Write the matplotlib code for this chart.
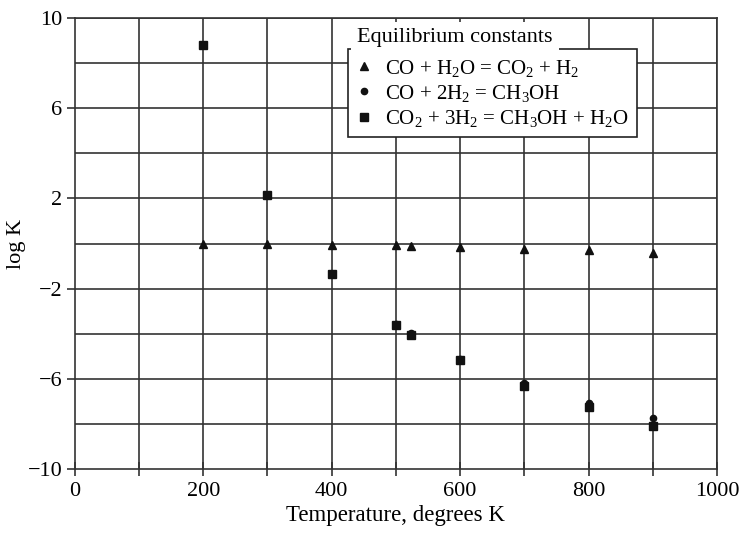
import matplotlib
matplotlib.use("Agg")
import matplotlib.pyplot as plt

plt.rcParams['font.family'] = ['Liberation Serif', 'DejaVu Serif']
plt.rcParams['mathtext.fontset'] = 'custom'
plt.rcParams['mathtext.rm'] = 'Liberation Serif'
plt.rcParams['mathtext.it'] = 'Liberation Serif:italic'

temps = [200, 300, 400, 500, 523, 600, 700, 800, 900]
logk_shift = [0.0, 0.0, -0.05, -0.05, -0.12, -0.15, -0.25, -0.3, -0.42]
logk_co = [8.8, 2.14, -1.37, -3.56, -3.97, -5.1, -6.2, -7.08, -7.72]
logk_co2 = [8.8, 2.14, -1.37, -3.62, -4.07, -5.17, -6.32, -7.24, -8.09]

labels = [r'CO + H$_2$O = CO$_2$ + H$_2$',
          r'CO + 2H$_2$ = CH$_3$OH',
          r'CO$_2$ + 3H$_2$ = CH$_3$OH + H$_2$O']
legend_title = 'Equilibrium constants'
xticks = [0, 200, 400, 600, 800, 1000]
yticks = [10, 6, 2, -2, -6, -10]

fig = plt.figure(figsize=(7.4, 5.33), dpi=100)
ax = fig.add_axes([0.101, 0.120, 0.868, 0.846])

gc = '#333333'
for xv in range(100, 1001, 100):
    ax.axvline(xv, color=gc, lw=1.2, zorder=1)
for yv in range(-8, 11, 2):
    ax.axhline(yv, color=gc, lw=1.2, zorder=1)

h1, = ax.plot(temps, logk_shift, linestyle='none', marker='^', ms=6, color='#111111', zorder=3)
h2, = ax.plot(temps, logk_co, linestyle='none', marker='o', ms=4.5, color='#111111', zorder=3)
h3, = ax.plot(temps, logk_co2, linestyle='none', marker='s', ms=5.2, color='#111111', zorder=4)

ax.set_xlim(0, 1000)
ax.set_ylim(-10, 10)
ax.set_xticks(xticks)
ax.set_xticks(range(100, 1000, 200), minor=True)
ax.set_yticks(yticks)
ax.set_yticks(range(-8, 10, 4), minor=True)
ax.tick_params(axis='x', which='both', direction='inout', length=10, width=1.2, color=gc, labelsize=16, pad=4)
ax.tick_params(axis='y', which='major', direction='out', length=6, width=1.2, color=gc, labelsize=16, pad=3)
ax.tick_params(axis='y', which='minor', length=0)
ax.set_yticklabels(['10', '6', '2', '\u22122', '\u22126', '\u221210'])
for s in ax.spines.values():
    s.set_color(gc)
    s.set_linewidth(1.2)

ax.set_xlabel('Temperature, degrees K', fontsize=16.5, labelpad=3)
ax.set_ylabel('log K', fontsize=16, labelpad=1)

ax.text(0.592, 0.956, legend_title, transform=ax.transAxes, ha='center', va='center',
        fontsize=16, zorder=6,
        bbox=dict(facecolor='white', edgecolor='none', boxstyle='square,pad=0.3'))

leg = ax.legend([h1, h2, h3], labels, loc='upper left', bbox_to_anchor=(0.425, 0.931),
                fontsize=15, frameon=True, fancybox=False, framealpha=1,
                edgecolor='#222222', handlelength=0.8, handletextpad=0.6,
                labelspacing=0.2, borderpad=0.4, borderaxespad=0)
leg.get_frame().set_linewidth(1.2)
leg.set_zorder(5)

fig.savefig('out.png', dpi=100)
